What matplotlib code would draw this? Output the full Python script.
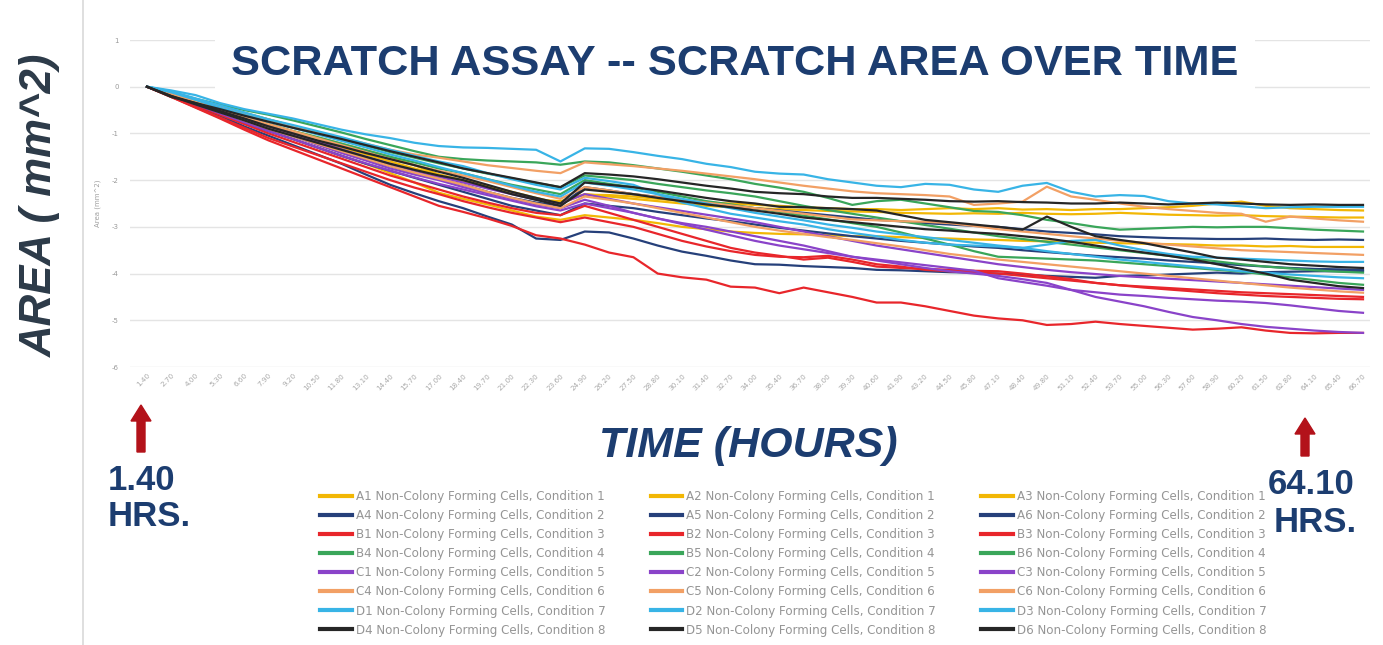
import matplotlib
matplotlib.use("Agg")
import matplotlib.pyplot as plt
from matplotlib.patches import FancyArrow
from matplotlib.transforms import IdentityTransform
from matplotlib.lines import Line2D

W, H = 1383, 645

# ---------------- data ----------------
TIME_LABELS = ["1.40", "2.70", "4.00", "5.30", "6.60", "7.90", "9.20", "10.50", "11.80", "13.10",
               "14.40", "15.70", "17.00", "18.40", "19.70", "21.00", "22.30", "23.60", "24.90", "26.20",
               "27.50", "28.80", "30.10", "31.40", "32.70", "34.00", "35.40", "36.70", "38.00", "39.30",
               "40.60", "41.90", "43.20", "44.50", "45.80", "47.10", "48.40", "49.80", "51.10", "52.40",
               "53.70", "55.00", "56.30", "57.60", "58.90", "60.20", "61.50", "62.80", "64.10", "65.40", "66.70"]

Y_TICKS = [1, 0, -1, -2, -3, -4, -5, -6]

# Condition 1 (yellow)
A1 = [0.00,-0.15,-0.32,-0.48,-0.65,-0.80,-0.95,-1.08,-1.22,-1.36,
      -1.50,-1.68,-1.88,-2.02,-2.15,-2.28,-2.42,-2.45,-2.31,-2.32,
      -2.35,-2.40,-2.45,-2.48,-2.50,-2.53,-2.55,-2.58,-2.60,-2.62,
      -2.62,-2.64,-2.62,-2.60,-2.62,-2.60,-2.63,-2.62,-2.64,-2.62,
      -2.62,-2.60,-2.58,-2.55,-2.50,-2.46,-2.55,-2.60,-2.62,-2.64,-2.65]
A2 = [0.00,-0.18,-0.38,-0.58,-0.78,-0.95,-1.12,-1.30,-1.48,-1.65,
      -1.85,-2.05,-2.27,-2.40,-2.52,-2.65,-2.78,-2.85,-2.75,-2.80,
      -2.85,-2.92,-3.00,-3.05,-3.10,-3.13,-3.15,-3.16,-3.18,-3.20,
      -3.20,-3.22,-3.24,-3.25,-3.27,-3.28,-3.30,-3.31,-3.33,-3.34,
      -3.35,-3.36,-3.37,-3.38,-3.40,-3.40,-3.42,-3.41,-3.43,-3.43,-3.43]
A3 = [0.00,-0.16,-0.34,-0.52,-0.70,-0.85,-1.00,-1.15,-1.30,-1.45,
      -1.60,-1.75,-1.88,-2.00,-2.12,-2.25,-2.38,-2.50,-2.30,-2.35,
      -2.40,-2.45,-2.50,-2.55,-2.58,-2.60,-2.62,-2.64,-2.66,-2.67,
      -2.68,-2.70,-2.71,-2.72,-2.71,-2.72,-2.70,-2.72,-2.73,-2.72,
      -2.70,-2.72,-2.74,-2.75,-2.76,-2.75,-2.77,-2.78,-2.79,-2.80,-2.80]
# Condition 2 (navy)
A4 = [0.00,-0.20,-0.42,-0.62,-0.85,-1.05,-1.25,-1.45,-1.65,-1.88,
      -2.10,-2.28,-2.45,-2.60,-2.78,-2.95,-3.25,-3.28,-3.10,-3.12,
      -3.25,-3.40,-3.53,-3.62,-3.72,-3.80,-3.81,-3.84,-3.86,-3.88,
      -3.92,-3.93,-3.95,-3.97,-3.98,-4.00,-4.02,-4.05,-4.07,-4.09,
      -4.05,-4.04,-4.02,-4.00,-3.98,-4.00,-3.97,-3.96,-3.95,-3.95,-3.95]
A5 = [0.00,-0.17,-0.35,-0.55,-0.72,-0.90,-1.05,-1.22,-1.38,-1.55,
      -1.70,-1.85,-1.98,-2.10,-2.25,-2.38,-2.48,-2.55,-2.15,-2.22,
      -2.30,-2.36,-2.42,-2.48,-2.55,-2.60,-2.65,-2.70,-2.75,-2.80,
      -2.85,-2.88,-2.92,-2.95,-2.98,-3.00,-3.05,-3.10,-3.13,-3.16,
      -3.20,-3.22,-3.24,-3.25,-3.26,-3.26,-3.25,-3.27,-3.28,-3.27,-3.28]
A6 = [0.00,-0.18,-0.38,-0.58,-0.78,-0.95,-1.12,-1.30,-1.48,-1.65,
      -1.80,-1.95,-2.10,-2.25,-2.40,-2.55,-2.65,-2.75,-2.50,-2.55,
      -2.60,-2.68,-2.75,-2.82,-2.88,-2.95,-3.02,-3.08,-3.14,-3.20,
      -3.25,-3.30,-3.34,-3.38,-3.42,-3.45,-3.50,-3.54,-3.58,-3.62,
      -3.65,-3.68,-3.72,-3.75,-3.78,-3.82,-3.85,-3.88,-3.90,-3.91,-3.92]
# Condition 3 (red)
B1 = [0.00,-0.22,-0.45,-0.68,-0.92,-1.15,-1.35,-1.55,-1.75,-1.95,
      -2.15,-2.35,-2.55,-2.68,-2.82,-2.98,-3.18,-3.25,-3.38,-3.55,
      -3.65,-4.00,-4.08,-4.13,-4.28,-4.30,-4.42,-4.30,-4.40,-4.50,
      -4.62,-4.62,-4.70,-4.80,-4.90,-4.96,-5.00,-5.10,-5.08,-5.03,
      -5.08,-5.12,-5.16,-5.20,-5.18,-5.15,-5.22,-5.27,-5.28,-5.27,-5.27]
B2 = [0.00,-0.22,-0.44,-0.66,-0.88,-1.10,-1.28,-1.46,-1.64,-1.82,
      -2.00,-2.16,-2.30,-2.45,-2.58,-2.70,-2.80,-2.90,-2.80,-2.90,
      -3.00,-3.15,-3.30,-3.42,-3.52,-3.60,-3.64,-3.65,-3.62,-3.70,
      -3.80,-3.85,-3.92,-3.95,-3.98,-4.00,-4.05,-4.10,-4.15,-4.20,
      -4.25,-4.28,-4.31,-4.34,-4.37,-4.40,-4.42,-4.44,-4.46,-4.48,-4.50]
B3 = [0.00,-0.20,-0.40,-0.60,-0.80,-1.00,-1.18,-1.36,-1.54,-1.72,
      -1.90,-2.05,-2.20,-2.35,-2.48,-2.60,-2.70,-2.75,-2.55,-2.70,
      -2.85,-3.00,-3.15,-3.30,-3.45,-3.55,-3.62,-3.70,-3.66,-3.75,
      -3.85,-3.88,-3.90,-3.92,-3.94,-3.95,-4.00,-4.06,-4.12,-4.20,
      -4.25,-4.30,-4.34,-4.38,-4.42,-4.45,-4.48,-4.50,-4.52,-4.54,-4.55]
# Condition 4 (green)
B4 = [0.00,-0.12,-0.26,-0.38,-0.50,-0.60,-0.72,-0.85,-0.98,-1.12,
      -1.25,-1.38,-1.50,-1.55,-1.58,-1.60,-1.62,-1.67,-1.60,-1.62,
      -1.68,-1.75,-1.82,-1.90,-1.98,-2.08,-2.16,-2.25,-2.38,-2.53,
      -2.45,-2.42,-2.50,-2.58,-2.66,-2.68,-2.75,-2.85,-2.92,-3.00,
      -3.06,-3.04,-3.02,-3.00,-3.01,-3.00,-3.00,-3.03,-3.06,-3.08,-3.10]
B5 = [0.00,-0.15,-0.32,-0.48,-0.65,-0.80,-0.95,-1.08,-1.22,-1.36,
      -1.50,-1.62,-1.75,-1.85,-1.98,-2.10,-2.20,-2.30,-2.00,-2.08,
      -2.15,-2.25,-2.35,-2.45,-2.52,-2.60,-2.68,-2.76,-2.84,-2.92,
      -3.00,-3.12,-3.25,-3.38,-3.52,-3.64,-3.66,-3.68,-3.70,-3.72,
      -3.76,-3.80,-3.84,-3.88,-3.92,-3.96,-4.02,-4.08,-4.14,-4.20,-4.24]
B6 = [0.00,-0.14,-0.28,-0.42,-0.56,-0.70,-0.84,-0.98,-1.12,-1.26,
      -1.40,-1.52,-1.64,-1.75,-1.86,-1.96,-2.06,-2.15,-1.90,-1.95,
      -2.00,-2.08,-2.15,-2.22,-2.28,-2.35,-2.45,-2.55,-2.64,-2.72,
      -2.80,-2.88,-2.96,-3.04,-3.12,-3.20,-3.26,-3.32,-3.38,-3.44,
      -3.50,-3.56,-3.62,-3.68,-3.74,-3.80,-3.85,-3.89,-3.93,-3.96,-3.98]
# Condition 5 (purple)
C1 = [0.00,-0.17,-0.36,-0.54,-0.72,-0.90,-1.06,-1.24,-1.42,-1.58,
      -1.75,-1.88,-2.00,-2.15,-2.28,-2.40,-2.52,-2.60,-2.42,-2.55,
      -2.70,-2.82,-2.92,-3.00,-3.10,-3.20,-3.30,-3.40,-3.52,-3.64,
      -3.72,-3.80,-3.88,-3.95,-4.00,-4.05,-4.12,-4.20,-4.35,-4.50,
      -4.60,-4.70,-4.82,-4.93,-5.00,-5.08,-5.14,-5.18,-5.22,-5.25,-5.27]
C2 = [0.00,-0.18,-0.38,-0.57,-0.76,-0.95,-1.12,-1.30,-1.48,-1.64,
      -1.80,-1.94,-2.08,-2.20,-2.32,-2.44,-2.56,-2.65,-2.50,-2.60,
      -2.70,-2.82,-2.94,-3.06,-3.18,-3.30,-3.40,-3.48,-3.56,-3.64,
      -3.70,-3.76,-3.82,-3.88,-3.94,-4.10,-4.18,-4.26,-4.35,-4.40,
      -4.45,-4.48,-4.52,-4.55,-4.58,-4.60,-4.63,-4.68,-4.74,-4.80,-4.84]
C3 = [0.00,-0.16,-0.34,-0.51,-0.68,-0.85,-1.00,-1.17,-1.34,-1.50,
      -1.65,-1.80,-1.93,-2.05,-2.18,-2.30,-2.42,-2.50,-2.30,-2.40,
      -2.50,-2.58,-2.66,-2.74,-2.82,-2.90,-3.00,-3.10,-3.20,-3.30,
      -3.40,-3.48,-3.56,-3.64,-3.72,-3.80,-3.86,-3.92,-3.97,-4.01,
      -4.05,-4.08,-4.11,-4.14,-4.17,-4.20,-4.23,-4.26,-4.29,-4.32,-4.35]
# Condition 6 (orange)
C4 = [0.00,-0.12,-0.26,-0.42,-0.56,-0.70,-0.84,-0.97,-1.10,-1.22,
      -1.35,-1.45,-1.52,-1.60,-1.68,-1.74,-1.80,-1.85,-1.62,-1.66,
      -1.70,-1.75,-1.80,-1.86,-1.92,-1.98,-2.05,-2.12,-2.18,-2.24,
      -2.28,-2.30,-2.32,-2.35,-2.53,-2.50,-2.46,-2.14,-2.35,-2.42,
      -2.50,-2.57,-2.62,-2.66,-2.70,-2.72,-2.89,-2.78,-2.82,-2.86,-2.89]
C5 = [0.00,-0.15,-0.32,-0.48,-0.64,-0.80,-0.95,-1.10,-1.25,-1.40,
      -1.55,-1.68,-1.80,-1.90,-2.02,-2.15,-2.28,-2.40,-2.15,-2.22,
      -2.30,-2.36,-2.42,-2.48,-2.54,-2.60,-2.66,-2.72,-2.78,-2.84,
      -2.86,-2.88,-2.89,-2.92,-2.98,-3.05,-3.10,-3.15,-3.20,-3.25,
      -3.30,-3.34,-3.38,-3.42,-3.46,-3.50,-3.52,-3.54,-3.56,-3.58,-3.60]
C6 = [0.00,-0.18,-0.36,-0.54,-0.72,-0.90,-1.06,-1.22,-1.38,-1.54,
      -1.70,-1.84,-1.97,-2.10,-2.25,-2.38,-2.50,-2.60,-2.35,-2.42,
      -2.50,-2.60,-2.70,-2.80,-2.90,-3.00,-3.08,-3.15,-3.22,-3.28,
      -3.35,-3.42,-3.50,-3.58,-3.64,-3.70,-3.75,-3.80,-3.85,-3.90,
      -3.95,-4.00,-4.05,-4.10,-4.15,-4.20,-4.25,-4.30,-4.34,-4.38,-4.41]
# Condition 7 (cyan)
D1 = [0.00,-0.08,-0.18,-0.35,-0.48,-0.58,-0.68,-0.80,-0.92,-1.02,
      -1.10,-1.20,-1.27,-1.30,-1.31,-1.33,-1.35,-1.60,-1.32,-1.33,
      -1.40,-1.48,-1.55,-1.65,-1.72,-1.82,-1.86,-1.88,-1.98,-2.05,
      -2.12,-2.15,-2.08,-2.10,-2.20,-2.25,-2.12,-2.06,-2.25,-2.35,
      -2.32,-2.34,-2.45,-2.50,-2.52,-2.56,-2.60,-2.58,-2.57,-2.57,-2.57]
D2 = [0.00,-0.10,-0.25,-0.40,-0.55,-0.70,-0.82,-0.95,-1.08,-1.22,
      -1.35,-1.48,-1.60,-1.70,-1.85,-1.98,-2.10,-2.20,-1.95,-2.02,
      -2.10,-2.30,-2.48,-2.60,-2.72,-2.80,-2.88,-2.95,-3.05,-3.13,
      -3.20,-3.28,-3.34,-3.38,-3.40,-3.42,-3.45,-3.38,-3.30,-3.28,
      -3.40,-3.50,-3.58,-3.64,-3.66,-3.68,-3.70,-3.72,-3.74,-3.75,-3.75]
D3 = [0.00,-0.12,-0.28,-0.45,-0.60,-0.75,-0.88,-1.02,-1.16,-1.30,
      -1.45,-1.58,-1.72,-1.85,-1.98,-2.12,-2.25,-2.35,-2.05,-2.12,
      -2.20,-2.30,-2.40,-2.50,-2.60,-2.70,-2.78,-2.86,-2.95,-3.02,
      -3.10,-3.16,-3.22,-3.28,-3.34,-3.40,-3.45,-3.52,-3.58,-3.64,
      -3.70,-3.75,-3.80,-3.85,-3.90,-3.95,-3.98,-4.02,-4.05,-4.08,-4.10]
# Condition 8 (black)
D4 = [0.00,-0.22,-0.35,-0.48,-0.62,-0.75,-0.88,-1.00,-1.12,-1.25,
      -1.38,-1.50,-1.62,-1.75,-1.85,-1.95,-2.05,-2.15,-1.85,-1.88,
      -1.92,-1.98,-2.05,-2.12,-2.18,-2.25,-2.28,-2.30,-2.35,-2.38,
      -2.38,-2.40,-2.42,-2.45,-2.46,-2.45,-2.47,-2.48,-2.50,-2.50,
      -2.48,-2.50,-2.52,-2.50,-2.48,-2.50,-2.52,-2.53,-2.52,-2.53,-2.53]
D5 = [0.00,-0.20,-0.35,-0.52,-0.68,-0.85,-1.00,-1.15,-1.28,-1.42,
      -1.55,-1.68,-1.82,-1.95,-2.10,-2.25,-2.38,-2.50,-2.05,-2.10,
      -2.15,-2.22,-2.30,-2.38,-2.45,-2.50,-2.57,-2.58,-2.60,-2.62,
      -2.65,-2.75,-2.85,-2.90,-2.95,-3.00,-3.06,-2.78,-3.00,-3.20,
      -3.28,-3.35,-3.45,-3.55,-3.66,-3.70,-3.75,-3.80,-3.83,-3.86,-3.88]
D6 = [0.00,-0.20,-0.38,-0.55,-0.72,-0.90,-1.05,-1.20,-1.35,-1.50,
      -1.65,-1.78,-1.90,-2.00,-2.15,-2.30,-2.42,-2.55,-2.20,-2.25,
      -2.30,-2.38,-2.45,-2.52,-2.58,-2.65,-2.72,-2.80,-2.85,-2.90,
      -2.95,-3.00,-3.05,-3.08,-3.12,-3.15,-3.20,-3.25,-3.32,-3.40,
      -3.48,-3.55,-3.62,-3.70,-3.80,-3.90,-4.00,-4.13,-4.20,-4.27,-4.31]

CONDITION_COLORS = {1: "#f2b705", 2: "#26407a", 3: "#e8262b", 4: "#3aa65a",
                    5: "#8a43c9", 6: "#f2a065", 7: "#38b4e6", 8: "#262626"}

SERIES = [("A1", 1, A1), ("A2", 1, A2), ("A3", 1, A3),
          ("A4", 2, A4), ("A5", 2, A5), ("A6", 2, A6),
          ("B1", 3, B1), ("B2", 3, B2), ("B3", 3, B3),
          ("B4", 4, B4), ("B5", 4, B5), ("B6", 4, B6),
          ("C1", 5, C1), ("C2", 5, C2), ("C3", 5, C3),
          ("C4", 6, C4), ("C5", 6, C5), ("C6", 6, C6),
          ("D1", 7, D1), ("D2", 7, D2), ("D3", 7, D3),
          ("D4", 8, D4), ("D5", 8, D5), ("D6", 8, D6)]

LEGEND_COLUMNS = [["A1", "A4", "B1", "B4", "C1", "C4", "D1", "D4"],
                  ["A2", "A5", "B2", "B5", "C2", "C5", "D2", "D5"],
                  ["A3", "A6", "B3", "B6", "C3", "C6", "D3", "D6"]]

# ---------------- figure ----------------
fig = plt.figure(figsize=(W / 100, H / 100), dpi=100)
fig.patch.set_facecolor("white")

def fx(px):
    return px / W

def fy(py):
    return 1 - py / H

ax_left, ax_right, ax_top, ax_bottom = 130, 1370, 40, 367
ax = fig.add_axes([fx(ax_left), fy(ax_bottom), fx(ax_right) - fx(ax_left), (ax_bottom - ax_top) / H])
ax.set_facecolor("white")

x = list(range(len(TIME_LABELS)))
handles = {}
for well, cond, vals in SERIES:
    ln, = ax.plot(x, vals, color=CONDITION_COLORS[cond], lw=1.6, solid_joinstyle="round",
                  label=f"{well} Non-Colony Forming Cells, Condition {cond}")
    handles[well] = ln

# x range: first point at px 147, last at px 1363
unit = (1363 - 147) / (len(x) - 1)
ax.set_xlim(-(147 - ax_left) / unit, (len(x) - 1) + (ax_right - 1363) / unit)
ax.set_ylim(-6, 1)
ax.set_yticks(Y_TICKS)
ax.set_yticklabels([str(v) for v in Y_TICKS], fontsize=5, color="#9a9a9a")
ax.set_xticks(x)
ax.set_xticklabels(TIME_LABELS, rotation=45, ha="right", rotation_mode="anchor",
                   fontsize=5.2, color="#a8a8a8")
ax.tick_params(axis="both", length=0)
ax.tick_params(axis="y", pad=8)
ax.tick_params(axis="x", pad=4)
ax.grid(axis="y", color="#e4e4e4", lw=1)
ax.set_axisbelow(True)
for s in ax.spines.values():
    s.set_visible(False)
ax.set_ylabel("Area (mm^2)", fontsize=5, color="#a0a0a0", labelpad=8)

# left border of the chart picture
fig.add_artist(Line2D([fx(83), fx(83)], [0, 1], color="#d9d9d9", lw=1.2, transform=fig.transFigure))

NAVY = "#1c3d70"
# Title with white box
fig.text(fx(735), fy(64), "SCRATCH ASSAY -- SCRATCH AREA OVER TIME", fontsize=31.2, fontweight="bold",
         color=NAVY, ha="center", va="center", family="Liberation Sans",
         bbox=dict(facecolor="white", edgecolor="none", pad=12), zorder=5)

# y label overlay
fig.text(fx(40), fy(205), "AREA ( mm^2)", fontsize=31.5, fontweight="bold", fontstyle="italic",
         color="#2c3a48", rotation=90, ha="center", va="center", family="Liberation Sans")

# x label overlay
fig.text(fx(748), fy(446), "TIME (HOURS)", fontsize=31, fontweight="bold", fontstyle="italic",
         color=NAVY, ha="center", va="center", family="Liberation Sans")

# annotations
fig.text(fx(108), fy(481), "1.40", fontsize=25, fontweight="bold", color=NAVY,
         ha="left", va="center", family="Liberation Sans")
fig.text(fx(108), fy(517), "HRS.", fontsize=25, fontweight="bold", color=NAVY,
         ha="left", va="center", family="Liberation Sans")
fig.text(fx(1311), fy(485), "64.10", fontsize=25, fontweight="bold", color=NAVY,
         ha="center", va="center", family="Liberation Sans")
fig.text(fx(1315), fy(523), "HRS.", fontsize=25, fontweight="bold", color=NAVY,
         ha="center", va="center", family="Liberation Sans")

ARROW_RED = "#b3121a"
for xa, tail, tip in [(141, 452, 405), (1305, 456, 418)]:
    fig.add_artist(FancyArrow(xa, H - tail, 0, tail - tip, width=8, head_width=20, head_length=16,
                              length_includes_head=True, color=ARROW_RED, transform=IdentityTransform()))

# legend (column-major)
ordered = [handles[w] for col in LEGEND_COLUMNS for w in col]
leg = fig.legend(handles=ordered, labels=[h.get_label() for h in ordered], ncol=3,
                 loc="upper left", bbox_to_anchor=(fx(320), fy(490)), frameon=False,
                 fontsize=8.6, handlelength=2.65, handletextpad=0.33, columnspacing=3.8,
                 labelspacing=0.51, borderpad=0, borderaxespad=0)
for t in leg.get_texts():
    t.set_color("#959595")
for lh in leg.get_lines():
    lh.set_linewidth(3)

fig.savefig("out.png", dpi=100, facecolor="white")
